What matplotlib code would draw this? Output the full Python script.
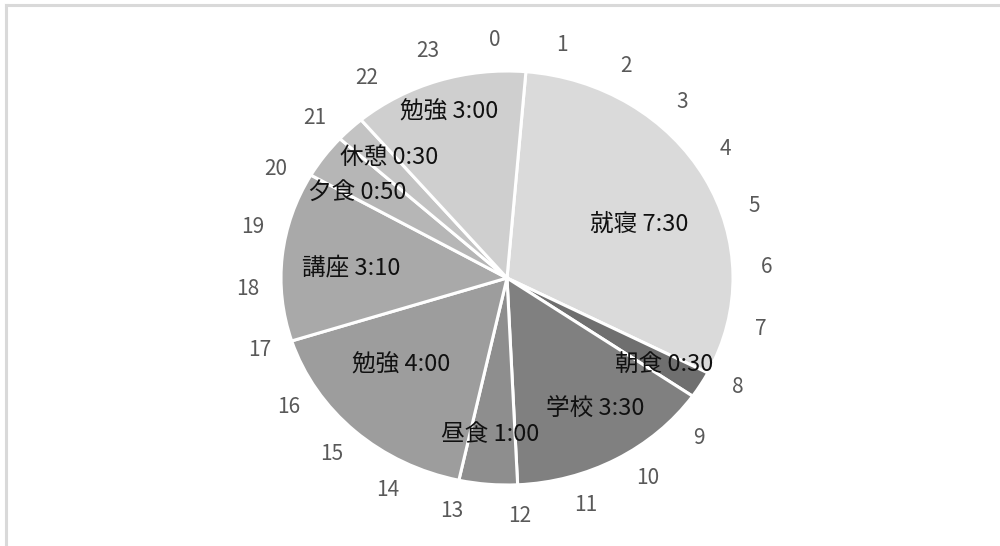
"""24時間の生活時間 円グラフ (1日のスケジュール)."""

import matplotlib
matplotlib.use("Agg")
import matplotlib.pyplot as plt
import numpy as np
from matplotlib.lines import Line2D

plt.rcParams["font.family"] = ["Noto Sans CJK JP", "DejaVu Sans"]

# --- data -------------------------------------------------------------
# activities in clock order, beginning with the slice that starts at 0:30
activities = ["就寝", "朝食", "学校", "昼食", "勉強", "講座", "夕食", "休憩", "勉強"]
minutes = [450, 30, 210, 60, 240, 190, 50, 30, 180]
first_start_min = 30          # 就寝 starts at 0:30
hours = list(range(24))       # clock labels round the pie

colors = ["#dadada", "#6f6f6f", "#808080", "#8e8e8e", "#9d9d9d",
          "#a9a9a9", "#b6b6b6", "#c3c3c3", "#cfcfcf"]
# label placement: fraction of radius and angular nudge (deg) per slice
label_r = [0.64, 0.81, 0.74, 0.76, 0.63, 0.69, 0.78, 0.78, 0.84]
label_dang = [5, 0, -3, 1, 6, -2, -4.5, 2, 0]

# --- layout (pixels of the 1000x546 canvas) ---------------------------
W, H = 1000, 546
CX, CY = 507, 278      # pie centre
RX, RY = 226, 207      # reference is stretched horizontally
ROT = -2.7             # whole clock turned slightly anticlockwise (deg)

fig = plt.figure(figsize=(W / 100, H / 100), dpi=100)
ax = fig.add_axes([0, 0, 1, 1])

start_deg = first_start_min / 1440 * 360 + ROT   # clockwise from top
ax.pie(minutes, colors=colors, startangle=90 - start_deg, counterclock=False,
       radius=1.0, wedgeprops=dict(edgecolor="white", linewidth=2.2))
ax.set_aspect("auto")
ax.set_xlim(-CX / RX, (W - CX) / RX)
ax.set_ylim(-(H - CY) / RY, CY / RY)
ax.axis("off")

# slice labels
cum = first_start_min + np.concatenate([[0], np.cumsum(minutes)[:-1]])
for name, m, c0, r, da in zip(activities, minutes, cum, label_r, label_dang):
    mid = np.deg2rad((c0 + m / 2) / 1440 * 360 + ROT + da)
    ax.text(r * np.sin(mid), r * np.cos(mid), f"{name} {m // 60}:{m % 60:02d}",
            ha="center", va="center", fontsize=17, color="#111111")

# hour labels
for h in hours:
    a = np.deg2rad(h * 15 + ROT)
    ax.text(1.15 * np.sin(a), 1.15 * np.cos(a), str(h),
            ha="center", va="center", fontsize=15, color="#595959")

# light frame on the top and left edges
fig.add_artist(Line2D([6 / W, 1], [1 - 4.5 / H, 1 - 4.5 / H],
                      transform=fig.transFigure, color="#d9d9d9", lw=2.2))
fig.add_artist(Line2D([6 / W, 6 / W], [0, 1 - 4.5 / H],
                      transform=fig.transFigure, color="#d9d9d9", lw=2.2))

fig.savefig("out.png", dpi=100)
